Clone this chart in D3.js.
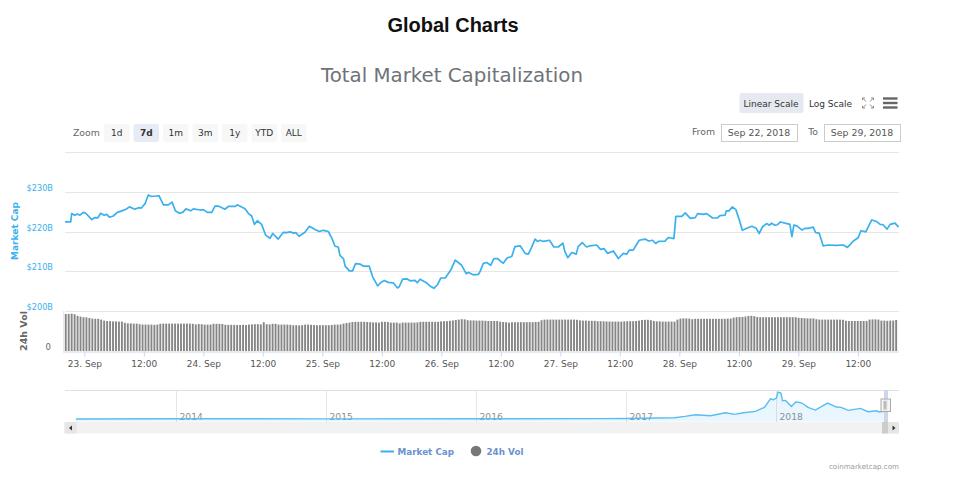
<!DOCTYPE html>
<html>
<head>
<meta charset="utf-8">
<script src="https://d3js.org/d3.v7.min.js"></script>
<style>
  body { margin: 0; background: #fff; }
  text { font-family: "DejaVu Sans", sans-serif; }
</style>
</head>
<body>
<svg id="chart" width="958" height="479"></svg>
<script>
// market cap: hours after 23 Sep 00:00 (UTC here), value in $B
let capHours = [-3.9,-2.75,-2.55,-1.9,-1.4,-0.9,-0.2,0.3,1.5,2.15,2.7,3.3,4,4.5,5.05,5.85,6.65,7.55,8.4,9.1,10.2,10.9,11.5,12.25,12.9,13.55,15.05,15.95,16.95,17.7,18.35,19.15,19.85,20.5,21.45,22,23.35,24,24.8,25.7,26.35,27,28.35,29.05,30.4,30.85,32.4,33.1,33.75,34.3,34.9,35.75,36.55,37.45,38,39.1,40.15,40.8,41.5,42.15,42.7,43.3,44.5,45.4,46.5,47.4,48.2,49.2,50,50.55,51.2,51.55,52.25,52.6,53.45,54.1,54.7,55.6,56.25,57.45,58.15,59.15,59.75,60.5,61.3,62.3,63.15,63.5,64.2,65,65.7,66.7,67.15,67.7,69,69.7,70.5,71.2,71.9,72.8,73.9,74.8,76.1,77,77.45,78.45,79.45,79.8,80.47,81.14,81.95,82.6,83.3,84.5,85.3,86.2,86.85,87.9,88.9,89.55,90.2,90.9,91.4,91.9,92.6,93.8,94.7,95.6,96.5,96.9,97.5,98.3,99.2,99.6,100.4,101.3,102,103.3,104.1,104.8,105.5,106.7,107.7,108.7,109.4,109.9,110.7,111.9,113.1,113.8,114.6,115.2,115.8,117.1,117.8,118.9,119.3,120.5,121.2,122.2,123.2,123.7,124.8,125.5,126.7,127.7,128.2,129.2,129.5,130,130.7,131.4,132.1,132.7,133.6,134.6,135.5,136.1,136.8,137.6,138.2,138.6,139.3,139.8,140.4,142.3,142.7,143.1,143.7,144.7,145.4,146,147,147.5,148.2,149,150,151.7,153.1,153.9,155.1,156.1,156.6,157.6,158.8,159.8,160.5,161.1,161.9,162.5,163.5,164.2];
let capValues = [222.4,222.4,224.5,224.1,224.4,224.1,224.8,224.6,223.0,223.5,223.4,224.6,224.1,224.3,223.6,223.9,224.8,225.2,225.6,226.2,225.6,226.0,225.9,227.0,229.2,228.8,229.0,226.7,226.7,227.4,225.2,224.6,224.8,225.7,225.2,225.7,225.4,225.5,224.8,224.8,226.4,226.4,225.6,226.3,226.3,226.7,225.7,224.5,223.9,221.8,222.7,221.8,219.1,218.3,219.5,218.1,219.8,219.7,219.9,219.6,219.7,218.8,219.8,221.3,220.5,220.0,220.3,220.0,218.1,216.3,216.1,214.0,213.2,211.3,210.1,210.1,211.9,211.8,211.3,211.3,208.6,206.3,207.1,207.7,207.2,207.1,205.8,206.1,208.0,208.1,207.6,207.7,207.1,208.0,207.1,206.3,205.7,206.6,208.3,208.3,210.3,212.8,211.5,209.4,209.7,209.1,209.2,209.9,212.0,212.2,211.5,213.2,213.2,212.0,213.4,213.7,216.2,216.4,214.5,214.3,216.0,218.1,217.5,217.8,217.5,217.8,216.1,216.1,217.1,215.0,213.4,214.7,214.3,216.2,217.2,216.1,216.4,216.6,215.5,215.7,214.5,215.1,213.2,214.5,214.3,215.3,215.3,217.8,218.1,217.6,217.8,217.0,217.5,217.6,218.5,218.2,223.8,223.8,224.7,223.3,223.5,224.5,224.3,224.5,223.4,223.4,224.0,224.1,225.2,225.2,226.2,225.5,222.9,220.3,220.8,221.3,220.8,219.5,221.2,222.0,221.6,222.1,221.6,221.7,222.4,221.8,218.7,221.6,221.4,220.4,220.8,220.8,221.1,219.7,219.6,216.4,216.6,216.5,216.6,216.0,217.6,218.5,220.2,219.9,222.9,222.5,221.8,221.7,220.6,221.8,222.1,221.1];

// 24h volume in $B, one bar every 0.596 h
let volFirstHour = -3.75;
let volStepHours = 0.596;
let volValues = [18.5,18.5,18.7,18.4,17.6,17.2,16.9,16.8,16.5,16.2,16.1,16.1,15.7,15.2,15.0,14.9,14.8,14.8,14.7,14.7,14.1,13.8,13.8,13.7,13.7,13.4,13.2,13.2,13.2,13.2,13.1,13.2,13.6,13.7,13.7,13.7,13.7,13.7,13.7,13.7,13.7,13.7,13.7,13.6,13.3,13.5,13.4,13.2,13.2,13.2,13.6,13.6,13.6,13.5,13.1,13.1,13.1,13.1,13.0,13.0,13.1,13.0,13.2,13.3,13.4,13.4,13.3,14.4,13.4,13.3,13.6,13.6,13.2,13.2,13.2,13.2,13.1,12.9,12.9,12.8,12.9,13.2,13.2,13.1,13.0,12.9,12.9,12.9,12.9,12.9,13.0,13.2,13.2,13.3,13.7,14.0,14.2,14.5,14.6,14.6,14.6,14.6,14.5,14.4,14.3,14.3,14.2,14.6,14.6,14.5,14.2,14.2,14.2,13.8,14.2,14.2,14.2,14.2,14.2,14.3,14.6,14.6,14.6,14.6,14.6,14.6,14.6,14.8,14.9,14.9,15.1,15.3,15.5,15.7,15.9,15.8,15.4,15.3,15.3,15.2,15.2,15.2,
  15.1,15.0,15.0,15.0,15.0,14.6,14.5,14.4,14.2,14.4,14.4,14.4,14.4,14.4,14.4,14.4,14.4,14.5,14.6,15.4,15.7,15.7,15.7,15.7,15.7,15.7,15.7,15.7,15.7,15.7,15.7,15.6,15.3,15.2,15.2,15.1,15.1,15.1,14.9,14.9,14.8,14.8,14.7,14.7,14.7,14.7,14.7,14.8,14.9,14.9,14.9,15.0,15.2,15.5,15.6,15.6,15.4,15.0,14.8,14.8,14.7,14.7,14.7,14.7,14.7,15.7,16.2,16.3,16.3,16.2,15.9,16.1,16.1,16.1,16.1,16.1,16.1,16.1,16.1,16.1,16.1,16.1,16.2,16.2,16.7,16.9,17.0,17.0,17.2,17.5,17.6,17.4,17.0,16.9,16.9,16.9,16.9,16.9,16.9,16.9,16.9,16.9,16.9,16.9,16.9,16.9,16.6,16.5,16.4,16.3,16.3,16.3,15.9,15.7,15.7,15.7,15.7,15.7,15.7,15.7,15.7,15.6,15.1,15.0,15.0,15.0,15.0,15.0,15.0,15.0,15.7,15.8,15.8,15.7,15.2,15.2,15.1,15.2,15.2,15.5];

// navigator overview: decimal year, value in $B
let miniYears = [2013.33,2014,2014.5,2015,2016,2016.83,2017,2017.32,2017.39,2017.46,2017.56,2017.66,2017.72,2017.78,2017.86,2017.92,2017.96,2017.98,2018,2018.01,2018.03,2018.04,2018.06,2018.1,2018.13,2018.17,2018.21,2018.26,2018.34,2018.4,2018.43,2018.48,2018.56,2018.61,2018.67,2018.68,2018.72];
let miniValues = [2,10,8,5,7,12,18,40,82,133,102,194,143,194,235,357,622,592,643,826,796,561,571,387,530,490,357,275,490,367,357,265,326,224,255,214,235];
let miniTicks = [2014,2015,2016,2017,2018];

let capTicks = [200,210,220,230,240];
let zoomLabels = ['1d','7d','1m','3m','1y','YTD','ALL'];
let activeZoom = '7d';

let BLUE = '#3ab0ee';
let svg = d3.select('#chart');
let hourToDate = h => new Date(Date.UTC(2018,8,23) + h*3600e3);

let x = d3.scaleUtc().domain([hourToDate(-3.9),hourToDate(164.3)]).range([65,899]);
let yCap = d3.scaleLinear().domain([200,240]).range([311,152]);
let yVol = d3.scaleLinear().domain([0,20]).range([351,311]);
let xMini = d3.scaleLinear().domain([2013.257,2018.817]).range([65,899]);
let yMini = d3.scaleLinear().domain([-60,890]).range([421,390]);

let txt = (sel,xp,yp,s,size,fill,anchor,weight) => sel.append('text')
  .attr('x',xp).attr('y',yp).text(s)
  .attr('font-size',size).attr('fill',fill)
  .attr('text-anchor',anchor||'start').attr('font-weight',weight||'normal');

// titles
txt(svg,453,32,'Global Charts',20,'#111','middle','bold').style('font-family','"Liberation Sans", sans-serif');
txt(svg,452,82,'Total Market Capitalization',19.8,'#6e7379','middle');

// grid
svg.append('g').selectAll('line').data(capTicks).enter().append('line')
  .attr('x1',65).attr('x2',899)
  .attr('y1',d => Math.round(yCap(d))+0.5).attr('y2',d => Math.round(yCap(d))+0.5)
  .attr('stroke','#e6e6e6');

// y labels, 240 has none
svg.append('g').selectAll('text').data(capTicks.slice(0,4)).enter().append('text')
  .attr('x',53).attr('y',d => yCap(d)-1).attr('text-anchor','end')
  .attr('font-size',8.2).attr('fill',BLUE).text(d => '$'+d+'B');

txt(svg,0,0,'Market Cap',9,BLUE,'middle','bold').attr('transform','translate(17.5,231) rotate(-90)');
txt(svg,0,0,'24h Vol',9.5,'#666','middle','bold').attr('transform','translate(27,331) rotate(-90)');
txt(svg,51,350,'0',8.5,'#666','end');

// volume
svg.append('g').selectAll('rect').data(volValues).enter().append('rect')
  .attr('x',(d,i) => x(hourToDate(volFirstHour+i*volStepHours))-0.95)
  .attr('width',1.9)
  .attr('y',d => yVol(d))
  .attr('height',d => yVol(0)-yVol(d))
  .attr('fill','#868686');

svg.append('line').attr('x1',63.5).attr('x2',63.5).attr('y1',311).attr('y2',351).attr('stroke','#e6e9f2');

// market cap line
let capLine = d3.line().x((d,i) => x(hourToDate(capHours[i]))).y(d => yCap(d));
svg.append('path').attr('d',capLine(capValues)).attr('fill','none')
  .attr('stroke',BLUE).attr('stroke-width',1.7).attr('stroke-linejoin','round');

// x axis
let axisTicks = d3.range(0,7).flatMap(d => [hourToDate(d*24),hourToDate(d*24+12)]);
let fmtDay = d3.utcFormat('%-d. %b');
let xAxis = d3.axisBottom(x).tickValues(axisTicks).tickSize(5).tickPadding(4)
  .tickFormat(d => d.getUTCHours() === 12 ? '12:00' : fmtDay(d));
let gx = svg.append('g').attr('transform','translate(0,351.5)').call(xAxis);
gx.select('.domain').attr('stroke','#ccd6eb').attr('d','M63,0.5H899');
gx.selectAll('.tick line').attr('stroke','#ccd6eb');
gx.selectAll('.tick text').attr('font-size',9).attr('fill','#555').style('font-family','"DejaVu Sans", sans-serif');

// range selector
txt(svg,73,136,'Zoom',9.3,'#666');
let btnW = 25.5;
let btns = svg.append('g').selectAll('g').data(zoomLabels).enter().append('g')
  .attr('transform',(d,i) => `translate(${104+i*29.5},124)`);
btns.append('rect').attr('width',btnW).attr('height',18).attr('rx',2)
  .attr('fill',d => d === activeZoom ? '#e6ebf5' : '#f7f7f7');
btns.append('text').attr('x',btnW/2).attr('y',12).attr('text-anchor','middle')
  .attr('font-size',9).attr('fill','#333').attr('font-weight',d => d === activeZoom ? 'bold' : 'normal')
  .text(d => d);

txt(svg,715,135,'From',9.3,'#666','end');
txt(svg,818,135,'To',9.3,'#666','end');
[[721,'Sep 22, 2018'],[824,'Sep 29, 2018']].forEach(b => {
  svg.append('rect').attr('x',b[0]+0.5).attr('y',124.5).attr('width',76).attr('height',17)
    .attr('fill','#fff').attr('stroke','#ccc');
  txt(svg,b[0]+38,135.5,b[1],9.4,'#555','middle');
});

// scale toggle and menu icons
svg.append('rect').attr('x',739.5).attr('y',93).attr('width',64).attr('height',20).attr('rx',2).attr('fill','#e6e9f0');
txt(svg,771,107,'Linear Scale',9,'#333','middle');
txt(svg,830.5,107,'Log Scale',9,'#333','middle');
let icon = svg.append('g').attr('fill','none').attr('stroke','#888').attr('stroke-width',1);
['M862.5,100V98H865','M873.5,100V98H871','M862.5,106V108H865','M873.5,106V108H871','M863,98.5L866,101.5','M873,98.5L870,101.5','M863,107.5L866,104.5','M873,107.5L870,104.5']
  .forEach(p => icon.append('path').attr('d',p));
[98,102.5,107].forEach(yp => svg.append('rect').attr('x',883).attr('y',yp-0.7).attr('width',14.5).attr('height',2.4).attr('fill','#666'));

// navigator
svg.append('line').attr('x1',65).attr('x2',899).attr('y1',390.5).attr('y2',390.5).attr('stroke','#e0e0e0').attr('stroke-width',1.2);
let gm = svg.append('g').selectAll('g').data(miniTicks).enter().append('g');
gm.append('line').attr('x1',d => Math.round(xMini(d))+0.5).attr('x2',d => Math.round(xMini(d))+0.5)
  .attr('y1',390).attr('y2',422).attr('stroke','#e6e6e6');
let miniArea = d3.area().x((d,i) => xMini(miniYears[i])).y0(421.5).y1(d => yMini(d));
let miniLine = d3.line().x((d,i) => xMini(miniYears[i])).y(d => yMini(d));
svg.append('path').attr('d',miniArea(miniValues)).attr('fill',BLUE).attr('fill-opacity',0.11);
gm.append('text').attr('x',d => xMini(d)+3).attr('y',419.5).attr('font-size',9.2).attr('fill','#8f8f8f').text(d => d);
svg.append('path').attr('d',miniLine(miniValues)).attr('fill','none').attr('stroke','#58bdf2').attr('stroke-width',1.4);

// selection band and handle
svg.append('rect').attr('x',884).attr('y',390).attr('width',4).attr('height',32).attr('fill','#ccd6eb');
svg.append('rect').attr('x',881).attr('y',399).attr('width',9.5).attr('height',12.5).attr('fill','#f2f2f2').attr('fill-opacity',0.8).attr('stroke','#aaa');
svg.append('rect').attr('x',883.5).attr('y',401).attr('width',3).attr('height',8.5).attr('fill','#bbb');

// scrollbar
svg.append('rect').attr('x',64.5).attr('y',422).attr('width',834.5).attr('height',11.5).attr('fill','#f2f2f2');
svg.append('rect').attr('x',64.5).attr('y',422).attr('width',12).attr('height',11.5).attr('fill','#e6e6e6');
svg.append('rect').attr('x',882).attr('y',422).attr('width',6).attr('height',11.5).attr('fill','#ccc');
svg.append('rect').attr('x',888).attr('y',422).attr('width',11).attr('height',11.5).attr('fill','#e6e6e6');
svg.append('path').attr('d','M72,425.5V430.5L69,428Z').attr('fill','#333');
svg.append('path').attr('d','M892.5,425.5V430.5L895.5,428Z').attr('fill','#333');

// legend
svg.append('line').attr('x1',380.5).attr('x2',394).attr('y1',451.5).attr('y2',451.5).attr('stroke',BLUE).attr('stroke-width',2);
txt(svg,397.5,455,'Market Cap',8.8,'#6a92d0','start','bold');
svg.append('circle').attr('cx',476).attr('cy',451).attr('r',5.3).attr('fill','#777');
txt(svg,486.5,455,'24h Vol',8.8,'#6a92d0','start','bold');

// credit
txt(svg,899,469,'coinmarketcap.com',7.1,'#999','end');
</script>
</body>
</html>
